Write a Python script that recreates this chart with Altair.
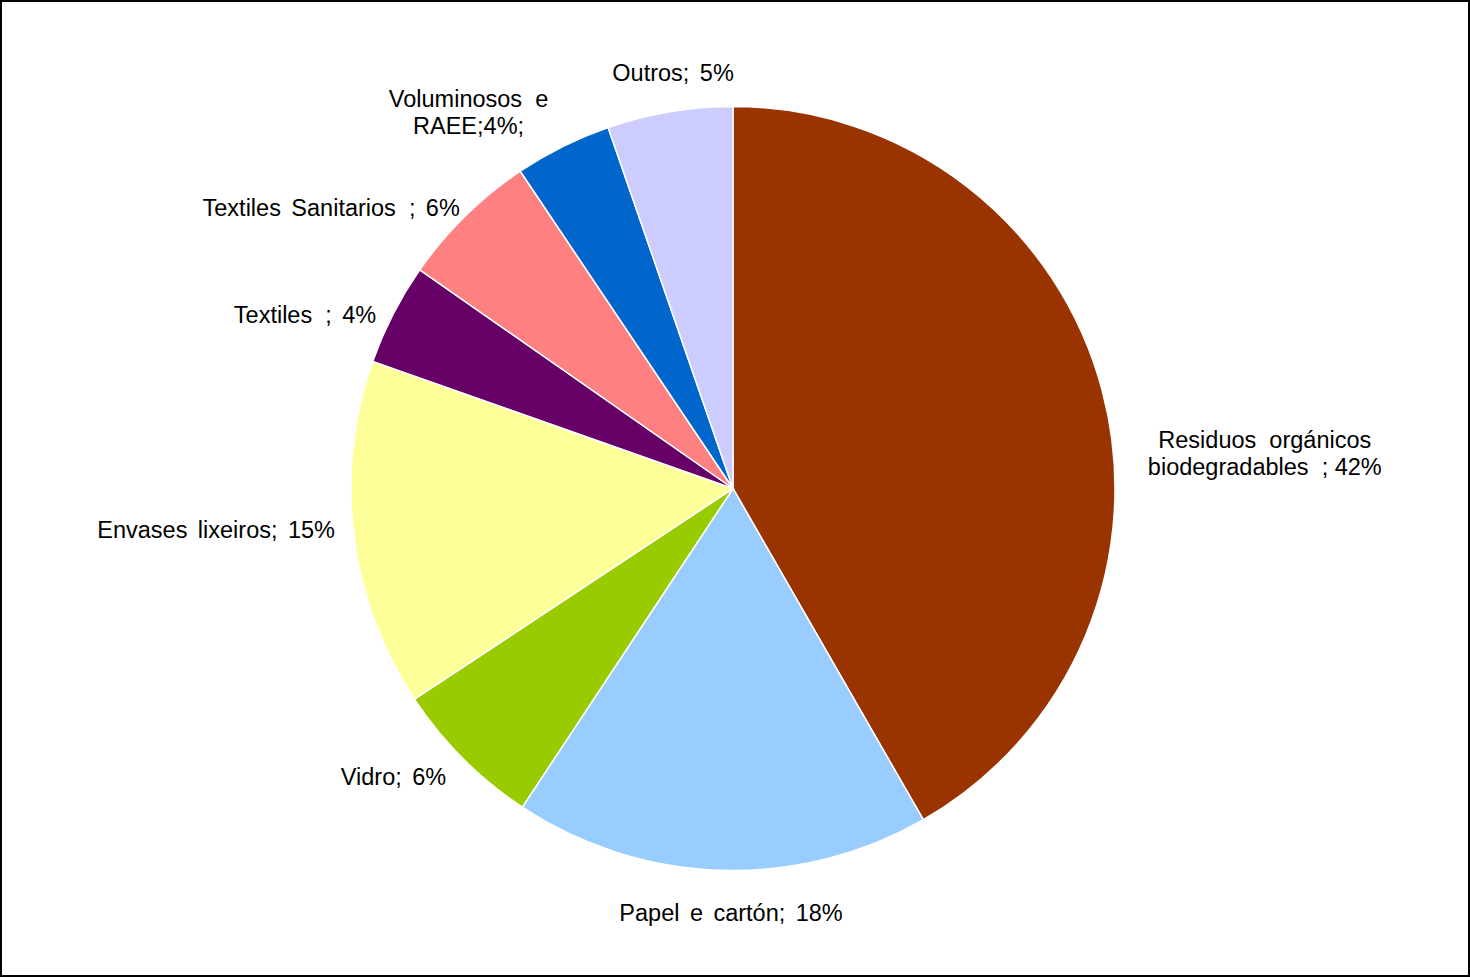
import altair as alt
import pandas as pd

S = " \u2006"      # slightly widened word space (Excel-style spacing)
D = "\u00a0 "      # double space as in the original labels

names = ["Residuos orgánicos biodegradables", "Papel e cartón", "Vidro", "Envases lixeiros",
         "Textiles", "Textiles Sanitarios", "Voluminosos e RAEE", "Outros"]
labels = [f"Residuos{D}orgánicos\nbiodegradables{D}; 42%",
          f"Papel{S}e{S}cartón;{S}18%",
          f"Vidro;{S}6%",
          f"Envases{S}lixeiros;{S}15%",
          f"Textiles{D};{S}4%",
          f"Textiles{S}Sanitarios{D};{S}6%",
          f"Voluminosos{D}e\nRAEE;4%;",
          f"Outros;{S}5%"]
values = [41.7, 17.6, 6.4, 14.7, 4.3, 5.9, 4.1, 5.3]
colors = ["#993300", "#99CCFF", "#99CC00", "#FFFF99", "#660066", "#FF8080", "#0066CC", "#CCCCFF"]

df = pd.DataFrame({"name": names, "label": labels, "value": values, "idx": list(range(len(names)))})

FONT = "Liberation Sans"
FS = 23.5
W, H = 1464, 975     # plot area (pie centred in it)
FW = 1468            # outer frame width

base = alt.Chart(df)

frame = base.mark_rect(filled=False, stroke="black", strokeWidth=2).encode(
    x=alt.value(0), x2=alt.value(FW), y=alt.value(0), y2=alt.value(H)
)

pie = base.mark_arc(radius=382, stroke="white", strokeWidth=1.5).encode(
    theta=alt.Theta("value:Q", stack=True),
    color=alt.Color("name:N", scale=alt.Scale(domain=names, range=colors), legend=None),
    order=alt.Order("idx:Q"),
)


def label_layer(which, **mk):
    return base.transform_calculate(t=f"datum.name == '{which}' ? datum.label : ''").mark_text(
        font=FONT, fontSize=FS, color="black", lineBreak="\n", lineHeight=27, **mk
    ).encode(
        theta=alt.Theta("value:Q", stack=True),
        order=alt.Order("idx:Q"),
        text="t:N",
    )


layers = [
    label_layer("Textiles Sanitarios", radius=400, align="right", baseline="middle", dx=7, dy=6),
    label_layer("Textiles", radius=400, align="right", baseline="middle", dx=-1, dy=10),
    label_layer("Envases lixeiros", radius=400, align="right", baseline="middle", dx=-1, dy=-6),
    label_layer("Vidro", radius=400, align="right", baseline="middle", dx=-4, dy=7),
    label_layer("Voluminosos e RAEE", radius=396, align="center", baseline="middle", dx=-88, dy=-34),
    label_layer("Outros", radius=410, align="center", baseline="bottom", dx=8, dy=2),
    label_layer("Papel e cartón", radius=412, align="center", baseline="top", dx=11, dy=2),
    label_layer("Residuos orgánicos biodegradables", radius=420, align="center",
                baseline="middle", dx=126, dy=61),
]

chart = alt.layer(frame, pie, *layers).properties(
    width=W, height=H,
    padding={"left": 1, "top": 1, "right": 5, "bottom": 1},
    autosize=alt.AutoSizeParams(type="none"),
    background="white",
).configure_view(stroke=None)

chart.save("out.html", embed_options={"renderer": "svg", "actions": False})
